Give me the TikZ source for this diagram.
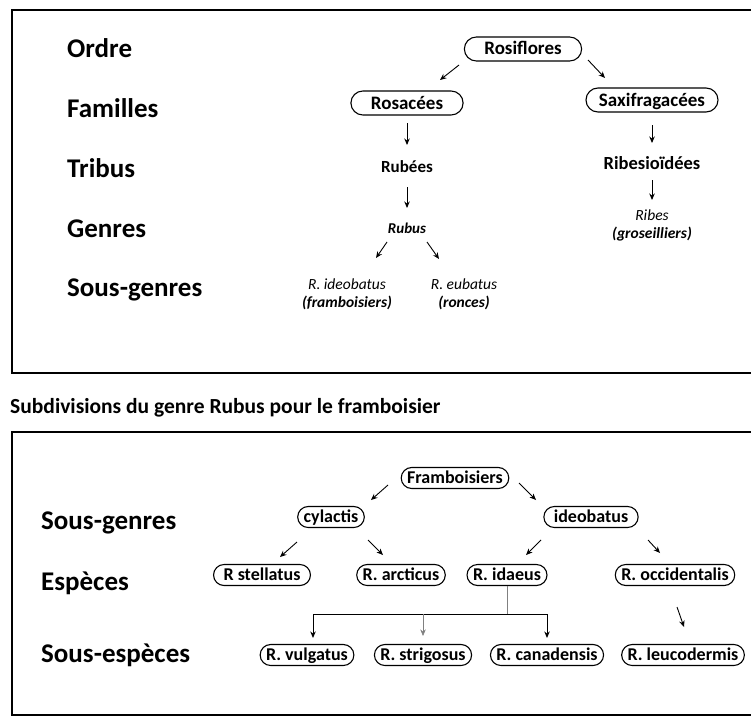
\documentclass[tikz,border=0pt]{standalone}
\usepackage{fontspec}
\setmainfont{Carlito}
\usetikzlibrary{arrows.meta}
\begin{document}
\begin{tikzpicture}[x=1pt,y=-1pt,
 lab/.style={anchor=west,font=\bfseries\fontsize{27}{30}\selectfont,inner sep=0pt},
 topnode/.style={draw,line width=1.1pt,rounded corners=12pt,minimum height=24pt,inner xsep=20pt,inner ysep=0pt,text height=15pt,text depth=3pt,font=\bfseries\fontsize{19}{21}\selectfont},
 botnode/.style={draw,line width=1.1pt,rounded corners=10.5pt,minimum height=21pt,inner xsep=6pt,inner ysep=0pt,text height=14pt,text depth=3pt,font=\bfseries\fontsize{18}{20}\selectfont},
 plainnode/.style={inner sep=1pt,font=\bfseries\fontsize{18.5}{20}\selectfont},
 itnode/.style={inner sep=1pt,align=center,font=\itshape\fontsize{15.5}{18}\selectfont},
 arr/.style={-{Stealth[length=6.5pt,width=5.5pt]},line width=0.9pt},
 frame/.style={line width=1.6pt},
 ]
\useasboundingbox (0,0) rectangle (751,717);
\clip (0,0) rectangle (751,717);

% frames
\draw[frame] (12,10) rectangle (780,373);
\draw[frame] (12,432) rectangle (780,715);

% ---------- top box ----------
\node[lab] (l1) at (67,48) {Ordre};
\node[lab] (l2) at (67,108) {Familles};
\node[lab] (l3) at (67,168) {Tribus};
\node[lab] (l4) at (67,229) {Genres};
\node[lab] (l5) at (67,290) {Sous-genres};

\node[topnode] (rosi) at (523,49) {Rosiflores};
\node[topnode] (rosa) at (407,103) {Rosacées};
\node[topnode,inner xsep=13pt] (saxi) at (652,100) {Saxifragacées};
\node[plainnode,font=\bfseries\fontsize{17}{19}\selectfont] (rubees) at (407,167) {Rubées};
\node[itnode,font=\itshape\bfseries\fontsize{15}{18}\selectfont] (rubus) at (407,228) {Rubus};
\node[itnode] (ideo) at (347,294) {R. ideobatus\\\textbf{(framboisiers)}};
\node[itnode] (eub) at (464,294) {R. eubatus\\\textbf{(ronces)}};
\node[plainnode] (ribesio) at (652,163) {Ribesioïdées};
\node[itnode] (ribes) at (652,225) {Ribes\\\textbf{(groseilliers)}};

\draw[arr] ([shift={(-64,16)}]rosi.center) -- ([shift={(33,-23)}]rosa.center);
\draw[arr] ([shift={(65,11)}]rosi.center) -- ([shift={(-47,-22)}]saxi.center);
\draw[arr] ([shift={(0,20)}]rosa.center) -- ([shift={(0,-22)}]rubees.center);
\draw[arr] ([shift={(0,20)}]rubees.center) -- ([shift={(0,-20)}]rubus.center);
\draw[arr] ([shift={(-20,14)}]rubus.center) -- ([shift={(29,-36)}]ideo.center);
\draw[arr] ([shift={(20,14)}]rubus.center) -- ([shift={(-25,-35)}]eub.center);
\draw[arr] ([shift={(0,25)}]saxi.center) -- ([shift={(0,-20)}]ribesio.center);
\draw[arr] ([shift={(0,17)}]ribesio.center) -- ([shift={(0,-25)}]ribes.center);

% ---------- title ----------
\node[anchor=west,inner sep=0pt,font=\bfseries\fontsize{21.5}{24}\selectfont] (title) at (10,408) {Subdivisions du genre Rubus pour le framboisier};

% ---------- bottom box ----------
\node[lab] (m1) at (41,523) {Sous-genres};
\node[lab] (m2) at (41,583) {Espèces};
\node[lab] (m3) at (41,655) {Sous-espèces};

\node[botnode] (fram) at (455,478) {Framboisiers};
\node[botnode] (cyl) at (331,517) {cylactis};
\node[botnode,inner xsep=10pt] (ideob) at (591,517) {ideobatus};
\node[botnode,inner xsep=10pt] (stell) at (262,575) {R stellatus};
\node[botnode] (arct) at (401,575) {R. arcticus};
\node[botnode] (idae) at (507,575) {R. idaeus};
\node[botnode] (occ) at (675,575) {R. occidentalis};
\node[botnode] (vulg) at (307,655) {R. vulgatus};
\node[botnode] (strig) at (423,655) {R. strigosus};
\node[botnode] (cana) at (547,655) {R. canadensis};
\node[botnode] (leuc) at (683,655) {R. leucodermis};

\draw[arr] ([shift={(-67,7)}]fram.center) -- ([shift={(40,-17)}]cyl.center);
\draw[arr] ([shift={(64,5)}]fram.center) -- ([shift={(-55,-17)}]ideob.center);
\draw[arr] ([shift={(-34,25)}]cyl.center) -- ([shift={(18,-18)}]stell.center);
\draw[arr] ([shift={(37,23)}]cyl.center) -- ([shift={(-18,-20)}]arct.center);
\draw[arr] ([shift={(-50,23)}]ideob.center) -- ([shift={(19,-20)}]idae.center);
\draw[arr] ([shift={(57,23)}]ideob.center) -- ([shift={(-15,-22)}]occ.center);
\draw[arr] ([shift={(2,32)}]occ.center) -- ([shift={(1,-28)}]leuc.center);

\coordinate (j) at ([shift={(0,28)}]idae.south);
\draw[gray,line width=0.6pt] (idae.south) -- (j);
\draw[line width=0.9pt] ([shift={(6,0)}]j -| vulg.center) -- (j -| cana.center);
\draw[arr] ([shift={(6,0)}]j -| vulg.center) -- ([shift={(6,-6)}]vulg.north);
\draw[arr,gray,line width=0.6pt] (j -| strig.center) -- ([shift={(0,-8)}]strig.north);
\draw[arr] (j -| cana.center) -- ([shift={(0,-6)}]cana.north);
\end{tikzpicture}
\end{document}
